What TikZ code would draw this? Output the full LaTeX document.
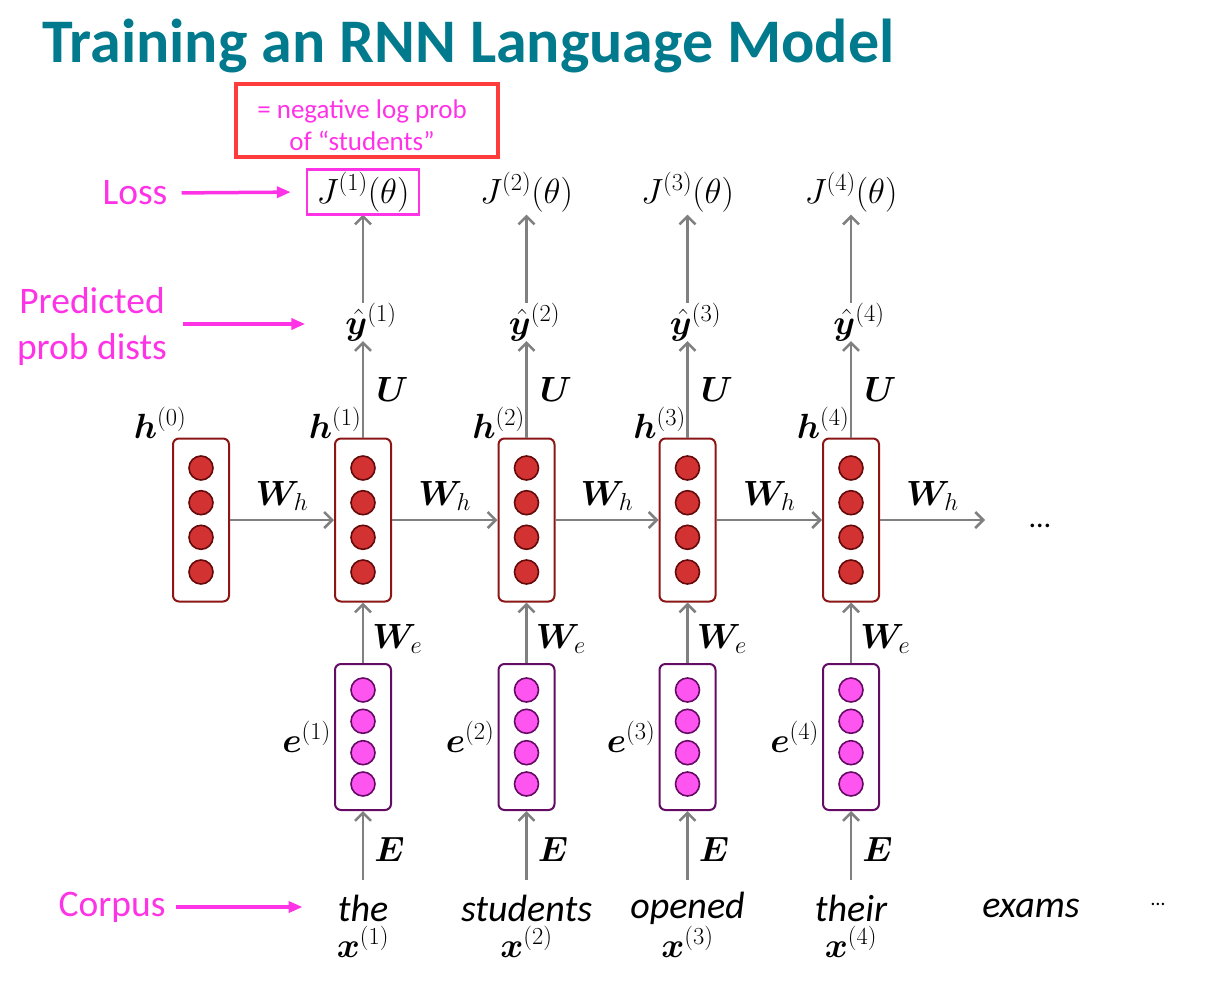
\documentclass[tikz,border=0pt]{standalone}
\usepackage{fix-cm}
\usepackage{amsmath,bm}
\usepackage[no-math]{fontspec}
\setmainfont{Carlito}
\usetikzlibrary{arrows.meta,calc}
\definecolor{titlecol}{RGB}{0,122,140}
\definecolor{hborder}{RGB}{140,22,22}
\definecolor{hdark}{RGB}{100,10,10}
\definecolor{hfill}{RGB}{210,50,50}
\definecolor{eborder}{RGB}{100,12,100}
\definecolor{efill}{RGB}{255,85,240}
\definecolor{mag}{RGB}{255,51,230}
\definecolor{arrowgray}{RGB}{128,128,128}
\definecolor{redbox}{RGB}{255,60,60}
\tikzset{
 hbox/.style={draw=hborder, line width=2pt, rounded corners=6pt, minimum width=56pt, minimum height=163pt, inner sep=0pt},
 ebox/.style={draw=eborder, line width=2pt, rounded corners=6pt, minimum width=56pt, minimum height=146pt, inner sep=0pt},
 hdot/.style={circle, draw=hdark, fill=hfill, line width=1.6pt, minimum size=24pt, inner sep=0pt},
 edot/.style={circle, draw=eborder, fill=efill, line width=1.6pt, minimum size=24pt, inner sep=0pt},
 conn/.style={draw=arrowgray, line width=2.5pt, -{Straight Barb[length=8pt,width=16pt]}},
 pinkarrow/.style={draw=mag, line width=3.5pt, -{Triangle[length=14pt,width=11pt]}},
 mathlbl/.style={font=\fontsize{35}{40}\selectfont, inner sep=0pt},
 maglbl/.style={text=mag, font=\fontsize{37.5}{46}\selectfont, align=center, inner sep=2pt},
 word/.style={font=\fontsize{38}{40}\selectfont\itshape, inner sep=0pt},
}
\begin{document}
\begin{tikzpicture}[x=1pt,y=-1pt]
\useasboundingbox (0,0) rectangle (1231,985);
\node[anchor=base west, font=\fontsize{62}{62}\selectfont\bfseries, text=titlecol, inner sep=0pt] (title) at (42,62) {Training an RNN Language Model};
\node[draw=redbox, line width=4pt, minimum width=262pt, minimum height=73pt] (note) at (367,120.5) {};
\node[text=mag, font=\fontsize{27}{32}\selectfont, align=center, inner sep=0pt] (notetext) at (362,125) {= negative log prob\\of “students”};
% h0
\node[hbox] (h0) at (201,520) {};
\foreach \k/\o in {1/-52,2/-17.3,3/17.3,4/52} \node[hdot] (h0-\k) at (201,520+\o) {};
\node[mathlbl] (hl0) at (160,423) {$\bm{h}^{(0)}$};
\foreach \i/\x/\p/\w in {1/363/0/the,2/526.5/1/students,3/687.5/2/opened,4/851/3/their}{
  \node[hbox] (h\i) at (\x,520) {};
  \foreach \k/\o in {1/-52,2/-17.3,3/17.3,4/52} \node[hdot] (h\i-\k) at (\x,520+\o) {};
  \node[ebox] (e\i) at (\x,737) {};
  \foreach \k/\o in {1/-47,2/-15.7,3/15.7,4/47} \node[edot] (e\i-\k) at (\x,737+\o) {};
  \node[mathlbl] (hl\i) at (\x-28,423) {$\bm{h}^{(\i)}$};
  \node[mathlbl, anchor=east] (el\i) at (\x-32,737) {$\bm{e}^{(\i)}$};
  \node[mathlbl] (yh\i) at (\x+8,322) {$\hat{\bm{y}}^{(\i)}$};
  \node[mathlbl, minimum width=112pt, minimum height=45pt] (J\i) at (\x,192) {$J^{(\i)}(\theta)$};
  \node[word] (w\i) at (\x,908) {\w};
  \node[mathlbl] (x\i) at (\x,942) {$\bm{x}^{(\i)}$};
  \coordinate (ws\i) at (\x,880);
  \draw[conn] (h\p.east) -- node[mathlbl, above=8pt] {$\bm{W}_h$} (h\i.west);
  \draw[conn] (h\i.north) -- node[mathlbl, right=12pt] {$\bm{U}$} (h\i.north |- yh\i.south);
  \draw[conn] (h\i.north |- yh\i.north) -- (J\i.south);
  \draw[conn] (e\i.north) -- node[mathlbl, right=8pt, yshift=-6pt] {$\bm{W}_e$} (h\i.south);
  \draw[conn] (ws\i) -- node[mathlbl, right=10pt, yshift=-4pt] {$\bm{E}$} (e\i.south);
}
\draw[draw=mag, line width=2.5pt] (J1.south west) rectangle (J1.north east);
\coordinate (hend) at (985,520);
\draw[conn] (h4.east) -- node[mathlbl, above=8pt] {$\bm{W}_h$} (hend);
\node[font=\fontsize{30}{30}\selectfont, anchor=base, inner sep=0pt] (dots1) at (1040,527) {…};
\node[word] (w5) at (1031,908) {exams};
\node[font=\fontsize{20}{20}\selectfont, anchor=base, inner sep=0pt] (dots2) at (1158,905) {…};
% left labels
\node[maglbl] (loss) at (135,193) {Loss};
\node[maglbl] (pred) at (92,326) {Predicted\\prob dists};
\node[maglbl] (corp) at (112,907) {Corpus};
\draw[pinkarrow, shorten <=12pt, shorten >=16pt] (loss.east) -- (J1.west);
\draw[pinkarrow, shorten >=40pt] (183,324) -- (yh1.west |- 0,324);
\draw[pinkarrow, shorten <=8pt, shorten >=35pt] (corp.east) -- (w1.west |- corp.east);
\end{tikzpicture}
\end{document}
